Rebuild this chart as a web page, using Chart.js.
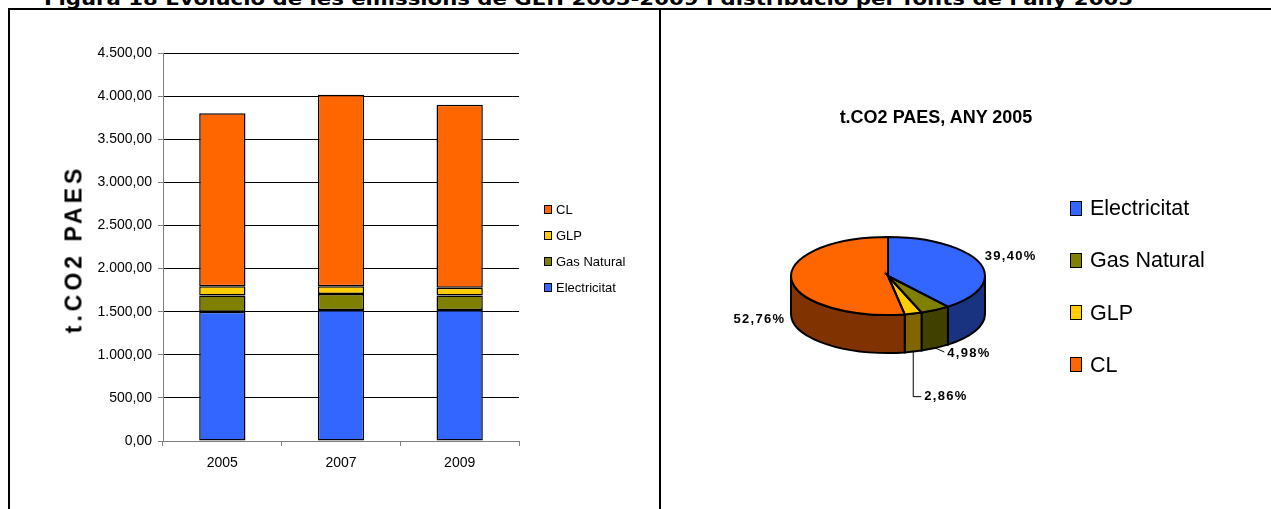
<!DOCTYPE html>
<html>
<head>
<meta charset="utf-8">
<script src="https://cdn.jsdelivr.net/npm/chart.js@4.4.0/dist/chart.umd.min.js"></script>
<style>
  html, body { margin: 0; padding: 0; background: #fff; }
  body { position: relative; width: 1271px; height: 509px; overflow: hidden; font-family: "Liberation Sans", Arial, sans-serif; color: #000; }
  #figTitle { position: absolute; left: 44px; top: -9px; font: bold 17px "DejaVu Sans", Verdana, sans-serif; line-height: 17px; white-space: nowrap; transform-origin: 0 0; }
  .rule { position: absolute; background: #000; }
  #barBox { position: absolute; left: 0; top: 0; }
  #pieBox { position: absolute; left: 661px; top: 0; }
  #yTitle { position: absolute; left: 74px; top: 249px; font: bold 23px "Liberation Sans", Arial, sans-serif; letter-spacing: 4px; white-space: nowrap; transform: translate(-50%, -50%) rotate(-90deg); }
  #pieTitle { position: absolute; left: 936px; top: 108px; font: bold 18px "Liberation Sans", Arial, sans-serif; line-height: 18px; white-space: nowrap; transform: translateX(-50%); }
  .lg { position: absolute; white-space: nowrap; }
  .lg i { position: absolute; left: 0; border: 1px solid #000; box-sizing: border-box; }
  .lg span { position: absolute; }
</style>
</head>
<body>
<div id="figTitle">Figura 18 Evolució de les emissions de GEH 2005-2009 i distribució per fonts de l'any 2005</div>

<canvas id="barBox" width="656" height="509"></canvas>
<canvas id="pieBox" width="610" height="509"></canvas>

<div class="rule" style="left:8px;top:8px;width:1263px;height:2px"></div>
<div class="rule" style="left:8px;top:8px;width:2px;height:501px"></div>
<div class="rule" style="left:659px;top:8px;width:2px;height:501px"></div>

<div id="yTitle">t.CO2 PAES</div>
<div id="pieTitle">t.CO2 PAES, ANY 2005</div>
<div id="barLegend"></div>
<div id="pieLegend"></div>

<script>
// data
const years = ['2005', '2007', '2009'];
const sources = ['Electricitat', 'Gas Natural', 'GLP', 'CL'];
const electricitat = [1498, 1518, 1518];
const gasNatural = [189, 188, 169];
const glp = [109, 90, 90];
const cl = [2005, 2219, 2122];
const yTicks = [0, 500, 1000, 1500, 2000, 2500, 3000, 3500, 4000, 4500];

const pieLabels = ['Electricitat', 'Gas Natural', 'GLP', 'CL'];
const pieShares = [39.40, 4.98, 2.86, 52.76];

// styles
const colors = ['#3366FF', '#808000', '#FFCC00', '#FF6600'];
const sideColors = ['#1A3380', '#404000', '#806600', '#803300'];

function fmtNum(v) {
    const parts = v.toFixed(2).split('.');
    return parts[0].replace(/\B(?=(\d{3})+(?!\d))/g, '.') + ',' + parts[1];
}

// title stretched to the width seen in the picture
const ft = document.getElementById('figTitle');
ft.style.transform = 'scaleX(' + (1089 / ft.getBoundingClientRect().width) + ')';

// ---- stacked bars ----
const barSeries = [electricitat, gasNatural, glp, cl];
const barChart = new Chart(document.getElementById('barBox'), {
    type: 'bar',
    data: {
        labels: years,
        datasets: sources.map((name, i) => ({
            label: name,
            data: barSeries[i],
            backgroundColor: colors[i],
            borderColor: '#000',
            borderWidth: 1.5,
            borderSkipped: false,
            barPercentage: 0.39,
            categoryPercentage: 1
        }))
    },
    options: {
        responsive: false,
        animation: false,
        events: [],
        layout: { padding: { left: 0, right: 137, top: 53, bottom: 0 } },
        plugins: { legend: { display: false }, tooltip: { enabled: false } },
        scales: {
            x: {
                stacked: true,
                offset: true,
                grid: { offset: true, drawOnChartArea: false, color: '#808080', tickLength: 5 },
                border: { color: '#808080' },
                ticks: { color: '#000', font: { size: 14, family: 'Liberation Sans' }, padding: 9, maxRotation: 0 },
                afterFit: s => { s.height = 68; }
            },
            y: {
                stacked: true,
                min: yTicks[0],
                max: yTicks[yTicks.length - 1],
                afterBuildTicks: s => { s.ticks = yTicks.map(v => ({ value: v })); },
                ticks: { color: '#000', font: { size: 14, family: 'Liberation Sans' }, padding: 6, callback: v => fmtNum(v) },
                grid: { color: '#000', tickColor: '#808080', tickLength: 5 },
                border: { color: '#808080' },
                afterFit: s => { s.width = 163; }
            }
        }
    }
});

// ---- pie with a drawn depth ----
const tilt = 39 / 97;
const depth = 38;
// label placement relative to the slice (style only)
const labelPlace = [
    { from: 'top', dx: 5, dy: -7, align: 'left' },
    { from: 'bottom', dx: 12, dy: 5, align: 'left', leader: [[0, 0], [9, 4]] },
    { from: 'bottom', dx: 11, dy: 45, align: 'left', leader: [[0, 0], [0, 45], [8, 45]] },
    { from: 'top', dx: -6, dy: 40, align: 'right' }
];

const pie3d = {
    id: 'pie3d',
    beforeDatasetsDraw(chart) {
        const ctx = chart.ctx;
        const arcs = chart.getDatasetMeta(0).data;
        const cx = arcs[0].x, cy = arcs[0].y, R = arcs[0].outerRadius, ry = R * tilt;
        arcs.forEach((a, i) => {
            const s = Math.max(a.startAngle, 0), e = Math.min(a.endAngle, Math.PI);
            if (e <= s) return;
            ctx.beginPath();
            ctx.ellipse(cx, cy, R, ry, 0, s, e);
            ctx.lineTo(cx + R * Math.cos(e), cy + ry * Math.sin(e) + depth);
            ctx.ellipse(cx, cy + depth, R, ry, 0, e, s, true);
            ctx.closePath();
            ctx.fillStyle = sideColors[i];
            ctx.fill();
            ctx.lineWidth = 2;
            ctx.strokeStyle = '#000';
            ctx.stroke();
        });
        ctx.save();
        ctx.translate(cx, cy);
        ctx.scale(1, tilt);
        ctx.translate(-cx, -cy);
    },
    afterDatasetsDraw(chart) {
        const ctx = chart.ctx;
        ctx.restore();
        const arcs = chart.getDatasetMeta(0).data;
        const cx = arcs[0].x, cy = arcs[0].y, R = arcs[0].outerRadius, ry = R * tilt;
        ctx.lineWidth = 2;
        ctx.strokeStyle = '#000';
        arcs.forEach(a => {
            ctx.beginPath();
            ctx.moveTo(cx, cy);
            ctx.ellipse(cx, cy, R, ry, 0, a.startAngle, a.endAngle);
            ctx.closePath();
            ctx.stroke();
        });
        // percentage labels
        ctx.save();
        ctx.font = 'bold 13px "Liberation Sans", Arial, sans-serif';
        ctx.letterSpacing = '1.3px';
        ctx.fillStyle = '#000';
        ctx.textBaseline = 'middle';
        arcs.forEach((a, i) => {
            const p = labelPlace[i];
            const mid = (a.startAngle + a.endAngle) / 2;
            const ax = cx + R * Math.cos(mid);
            const ay = cy + ry * Math.sin(mid) + (p.from === 'bottom' ? depth : 0);
            if (p.leader) {
                ctx.beginPath();
                ctx.lineWidth = 1;
                p.leader.forEach(([lx, ly], k) => {
                    if (k === 0) ctx.moveTo(ax + lx, ay + ly); else ctx.lineTo(ax + lx, ay + ly);
                });
                ctx.stroke();
            }
            ctx.textAlign = p.align;
            const txt = pieShares[i].toFixed(2).replace('.', ',') + '%';
            ctx.fillText(txt, ax + p.dx, ay + p.dy);
        });
        ctx.restore();
    }
};

const pieChart = new Chart(document.getElementById('pieBox'), {
    type: 'pie',
    data: {
        labels: pieLabels,
        datasets: [{
            data: pieShares,
            backgroundColor: colors,
            borderWidth: 0,
            hoverOffset: 0
        }]
    },
    options: {
        responsive: false,
        animation: false,
        events: [],
        radius: 97,
        layout: { padding: { left: 130, right: 286, top: 179, bottom: 136 } },
        plugins: { legend: { display: false }, tooltip: { enabled: false } }
    },
    plugins: [pie3d]
});

// ---- legends (html) ----
function buildLegend(el, items, o) {
    items.forEach((it, k) => {
        const d = document.createElement('div');
        d.className = 'lg';
        d.style.left = o.x + 'px';
        d.style.top = (o.y0 + k * o.gap) + 'px';
        const sq = document.createElement('i');
        sq.style.width = o.sw + 'px';
        sq.style.height = o.sh + 'px';
        sq.style.top = (-o.sh / 2) + 'px';
        sq.style.background = it.color;
        sq.style.borderWidth = o.bw + 'px';
        const t = document.createElement('span');
        t.textContent = it.label;
        t.style.left = o.tx + 'px';
        t.style.font = o.font;
        t.style.lineHeight = o.fs + 'px';
        t.style.top = (-o.fs / 2) + 'px';
        d.appendChild(sq);
        d.appendChild(t);
        el.appendChild(d);
    });
}

const barItems = barChart.data.datasets.map(d => ({ label: d.label, color: d.backgroundColor })).reverse();
buildLegend(document.getElementById('barLegend'), barItems,
    { x: 544, y0: 209, gap: 26.3, sw: 8, sh: 9, bw: 1, tx: 12, fs: 13, font: '13px "Liberation Sans", Arial, sans-serif' });

const pieItems = pieChart.data.labels.map((l, i) => ({ label: l, color: colors[i] }));
buildLegend(document.getElementById('pieLegend'), pieItems,
    { x: 1070, y0: 208, gap: 52.3, sw: 12, sh: 15, bw: 1.5, tx: 20, fs: 22, font: '21.5px "Liberation Sans", Arial, sans-serif' });
</script>
</body>
</html>
